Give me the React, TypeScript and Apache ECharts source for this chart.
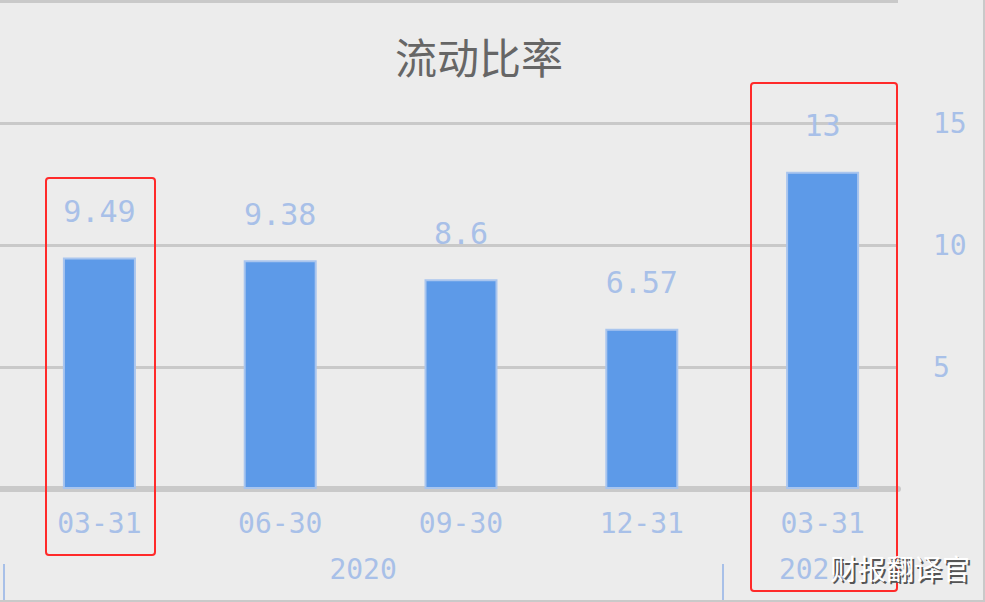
import React, { useEffect, useRef } from "react";
import * as echarts from "echarts";

const categories = ["03-31", "06-30", "09-30", "12-31", "03-31"];
const ratios = [9.49, 9.38, 8.6, 6.57, 13];
const yearLabels = ["2020", "2021"];
const yearLabelPositions = [2, 4.5];
const yearBoundaries = [0, 4];
const yTicks = [0, 5, 10, 15, 20];

const MONO = "'DejaVu Sans Mono', monospace";
const LABEL_BLUE = "#a8c0e8";
const GRID_GRAY = "#c9c9c9";

export default function App() {
  const ref = useRef<HTMLDivElement>(null);
  useEffect(() => {
    document.body.style.margin = "0";
    const chart = echarts.init(ref.current!, undefined, { renderer: "svg" });
    const option: any = {
      animation: false,
      backgroundColor: "#ececec",
      title: {
        text: "流动比率",
        left: 474,
        textAlign: "center",
        top: 29,
        textStyle: {
          fontFamily: "'Noto Sans CJK SC'",
          fontSize: 42,
          fontWeight: "normal",
          color: "#666666",
        },
      },
      grid: [
        { left: 0, top: 1, width: 898, height: 488, containLabel: false },
        { left: 9, top: 1, width: 904, height: 488, containLabel: false },
        { left: 3.5, top: 500, width: 899, height: 64, containLabel: false },
      ],
      xAxis: [
        {
          gridIndex: 0,
          type: "value",
          min: 0,
          max: 1,
          axisLine: { show: true, onZero: false, lineStyle: { color: GRID_GRAY, width: 6 } },
          axisTick: { show: false },
          axisLabel: { show: false },
          splitLine: { show: false },
        },
        {
          gridIndex: 1,
          type: "category",
          data: categories,
          axisLine: { show: false },
          axisTick: { show: false },
          axisLabel: {
            color: LABEL_BLUE,
            fontFamily: MONO,
            fontSize: 28,
            margin: 20,
          },
        },
        {
          gridIndex: 2,
          type: "value",
          min: 0,
          max: 5,
          position: "bottom",
          axisLine: { show: false },
          splitLine: { show: false },
          axisTick: {
            show: true,
            customValues: yearBoundaries,
            length: 38,
            lineStyle: { color: LABEL_BLUE, width: 2 },
          },
          axisLabel: {
            customValues: yearLabelPositions,
            formatter: (v: number) => {
              const i = yearLabelPositions.indexOf(v);
              return i >= 0 ? yearLabels[i] : "";
            },
            color: LABEL_BLUE,
            fontFamily: MONO,
            fontSize: 28,
            verticalAlign: "middle",
            margin: 5,
          },
        },
      ],
      yAxis: [
        {
          gridIndex: 0,
          type: "value",
          min: yTicks[0],
          max: yTicks[yTicks.length - 1],
          interval: 5,
          axisLine: { show: false },
          axisTick: { show: false },
          axisLabel: { show: false },
          splitLine: { show: true, lineStyle: { color: GRID_GRAY, width: 3 } },
        },
        {
          gridIndex: 1,
          type: "value",
          position: "right",
          min: yTicks[0],
          max: yTicks[yTicks.length - 1],
          interval: 5,
          axisLine: { show: false },
          axisTick: { show: false },
          splitLine: { show: false },
          axisLabel: {
            showMinLabel: false,
            showMaxLabel: false,
            color: LABEL_BLUE,
            fontFamily: MONO,
            fontSize: 28,
            margin: 20,
          },
        },
        {
          gridIndex: 2,
          type: "value",
          show: false,
        },
      ],
      series: [
        {
          type: "bar",
          xAxisIndex: 1,
          yAxisIndex: 1,
          data: ratios,
          barWidth: 73,
          itemStyle: {
            color: "#5d9ae8",
            borderColor: "#a9c5ee",
            borderWidth: 2,
          },
          label: {
            show: true,
            position: "top",
            distance: 31,
            color: LABEL_BLUE,
            fontFamily: MONO,
            fontSize: 30,
          },
        },
      ],
      graphic: [
        { type: "rect", z: 100, shape: { x: 0, y: 600, width: 985, height: 2 }, style: { fill: GRID_GRAY } },
        { type: "rect", z: 100, shape: { x: 983, y: 0, width: 2, height: 602 }, style: { fill: GRID_GRAY } },
        {
          type: "rect",
          z: 100,
          shape: { x: 46, y: 178, width: 109, height: 377, r: 3 },
          style: { fill: "none", stroke: "#ff2a2a", lineWidth: 2 },
        },
        {
          type: "rect",
          z: 100,
          shape: { x: 751, y: 83, width: 146, height: 508, r: 3 },
          style: { fill: "none", stroke: "#ff2a2a", lineWidth: 2 },
        },
        {
          type: "text",
          z: 100,
          x: 832,
          y: 570,
          style: {
            text: "财报翻译官",
            fill: "#555555",
            font: "28px 'Noto Sans CJK SC'",
            verticalAlign: "middle",
          },
        },
        {
          type: "text",
          z: 101,
          x: 830,
          y: 568,
          style: {
            text: "财报翻译官",
            fill: "#ffffff",
            font: "28px 'Noto Sans CJK SC'",
            verticalAlign: "middle",
          },
        },
      ],
    };
    chart.setOption(option);
    return () => chart.dispose();
  }, []);
  return <div ref={ref} style={{ width: 985, height: 602 }} />;
}
